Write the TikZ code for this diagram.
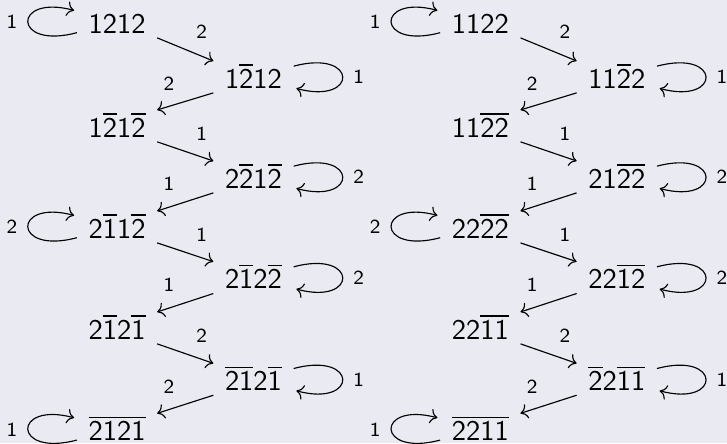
\documentclass[tikz,border=0pt]{standalone}
\usepackage{xcolor}
\usepackage{tikz}
\usetikzlibrary{arrows.meta}
\definecolor{slidebg}{RGB}{234,234,242}
\newcommand{\barred}[1]{\ensuremath{\overline{\mbox{#1}}}}
\tikzset{
  word/.style={font=\sffamily, anchor=base, text height=8pt, text depth=0pt,
    inner xsep=3.9pt, inner ysep=1.4pt},
  lbl/.style={font=\sffamily\scriptsize, inner sep=3.7pt},
  op/.style={-{Computer Modern Rightarrow}, line width=0.4pt},
}

\begin{document}
\begin{tikzpicture}
\path[use as bounding box, fill=slidebg] (0,0) rectangle (8.971,-5.467);

% first chain
\node[word] (a0) at (1.444,-0.411) {1212};
\node[word] (a1) at (3.128,-1.090) {1\barred{2}12};
\node[word] (a2) at (1.444,-1.694) {1\barred{2}1\barred{2}};
\node[word] (a3) at (3.128,-2.324) {2\barred{2}1\barred{2}};
\node[word] (a4) at (1.444,-2.941) {2\barred{1}1\barred{2}};
\node[word] (a5) at (3.128,-3.566) {2\barred{1}2\barred{2}};
\node[word] (a6) at (1.444,-4.187) {2\barred{1}2\barred{1}};
\node[word] (a7) at (3.128,-4.821) {\barred{21}2\barred{1}};
\node[word] (a8) at (1.444,-5.438) {\barred{2121}};

% second chain
\node[word] (b0) at (5.927,-0.411) {1122};
\node[word] (b1) at (7.611,-1.090) {11\barred{2}2};
\node[word] (b2) at (5.927,-1.694) {11\barred{22}};
\node[word] (b3) at (7.611,-2.324) {21\barred{22}};
\node[word] (b4) at (5.927,-2.941) {22\barred{22}};
\node[word] (b5) at (7.611,-3.566) {22\barred{12}};
\node[word] (b6) at (5.927,-4.187) {22\barred{11}};
\node[word] (b7) at (7.611,-4.821) {\barred{2}2\barred{11}};
\node[word] (b8) at (5.927,-5.438) {\barred{2211}};

% zig-zag arrows and loops, same in both chains
\foreach \w in {a,b}{
  \draw[op] (\w0.south east) -- node[lbl, above right] {2} (\w1.north west);
  \draw[op] (\w1.south west) -- node[lbl, above left] {2} (\w2.north east);
  \draw[op] (\w2.south east) -- node[lbl, above right] {1} (\w3.north west);
  \draw[op] (\w3.south west) -- node[lbl, above left] {1} (\w4.north east);
  \draw[op] (\w4.south east) -- node[lbl, above right] {1} (\w5.north west);
  \draw[op] (\w5.south west) -- node[lbl, above left] {1} (\w6.north east);
  \draw[op] (\w6.south east) -- node[lbl, above right] {2} (\w7.north west);
  \draw[op] (\w7.south west) -- node[lbl, above left] {2} (\w8.north east);

  \path (\w0) edge[loop left, op] node[lbl, left] {1} (\w0);
  \path (\w1) edge[loop right, op] node[lbl, right] {1} (\w1);
  \path (\w3) edge[loop right, op] node[lbl, right] {2} (\w3);
  \path (\w4) edge[loop left, op] node[lbl, left] {2} (\w4);
  \path (\w5) edge[loop right, op] node[lbl, right] {2} (\w5);
  \path (\w7) edge[loop right, op] node[lbl, right] {1} (\w7);
  \path (\w8) edge[loop left, op] node[lbl, left] {1} (\w8);
}
\end{tikzpicture}
\end{document}
